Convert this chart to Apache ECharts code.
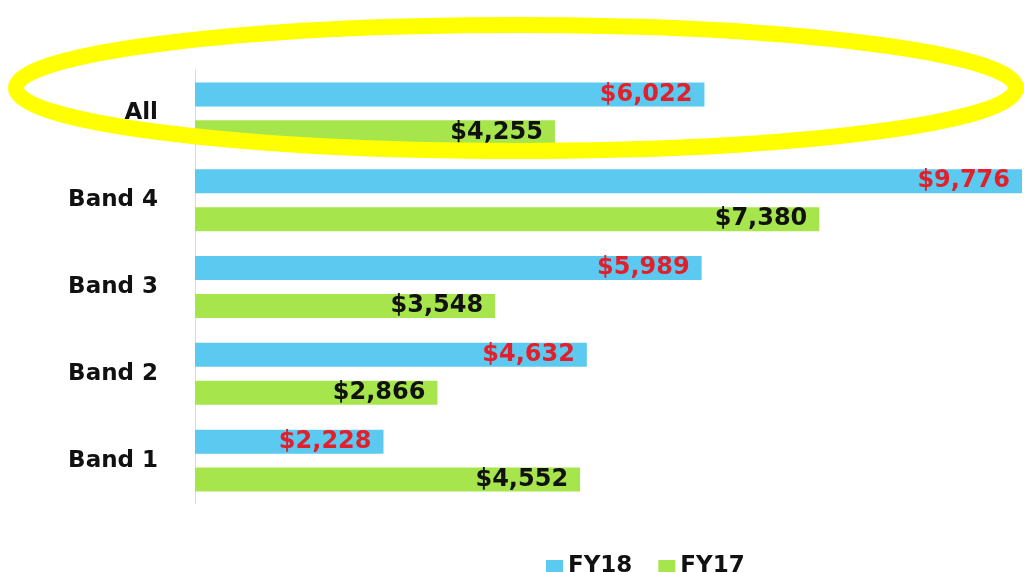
<!DOCTYPE html>
<html lang="en">
<head>
    <meta charset="utf-8">
    <title>FY18 vs FY17 by Band</title>
    <script src="https://cdn.jsdelivr.net/npm/echarts@6/dist/echarts.min.js"></script>
    <style>
        html, body { margin: 0; padding: 0; background: #fff; }
        #chart { width: 1024px; height: 572px; }
    </style>
</head>
<body>
    <div id="chart"></div>
    <script>
        // data, top to bottom
        var categories = ['All', 'Band 4', 'Band 3', 'Band 2', 'Band 1'];
        var fy18 = [6022, 9776, 5989, 4632, 2228];
        var fy17 = [4255, 7380, 3548, 2866, 4552];

        var font = '"DejaVu Sans", Verdana, sans-serif';

        function money(p) {
            return '$' + p.value.toLocaleString('en-US');
        }

        var chart = echarts.init(document.getElementById('chart'));

        var option = {
            backgroundColor: '#ffffff',
            animation: false,
            grid: {
                left: 195,
                width: 827,
                top: 70,
                bottom: 68
            },
            legend: {
                data: ['FY18', 'FY17'],
                left: 541,
                top: 550,
                icon: 'rect',
                itemWidth: 17,
                itemHeight: 13,
                itemGap: 26,
                textStyle: { fontFamily: font, fontWeight: 'bold', fontSize: 23, color: '#111' }
            },
            xAxis: {
                type: 'value',
                min: 0,
                max: 9776,
                show: false,
                splitLine: { show: false }
            },
            yAxis: {
                type: 'category',
                inverse: true,
                data: categories,
                axisLine: { show: true, lineStyle: { color: '#dcdcdc', width: 1 } },
                axisTick: { show: false },
                axisLabel: {
                    margin: 37,
                    fontFamily: font,
                    fontWeight: 'bold',
                    fontSize: 23,
                    color: '#111'
                }
            },
            series: [{
                name: 'FY18',
                type: 'bar',
                data: fy18,
                barWidth: 24,
                barGap: '58%',
                itemStyle: { color: '#5bc9f0' },
                label: {
                    show: true,
                    position: 'insideRight',
                    distance: 12,
                    formatter: money,
                    fontFamily: font,
                    fontWeight: 'bold',
                    fontSize: 24,
                    color: '#e2202c'
                }
            }, {
                name: 'FY17',
                type: 'bar',
                data: fy17,
                barWidth: 24,
                itemStyle: { color: '#a6e64c' },
                label: {
                    show: true,
                    position: 'insideRight',
                    distance: 12,
                    formatter: money,
                    fontFamily: font,
                    fontWeight: 'bold',
                    fontSize: 24,
                    color: '#111'
                }
            }],
            // yellow highlight ring around "All"
            graphic: [{
                type: 'ellipse',
                z: 100,
                shape: { cx: 516, cy: 88, rx: 500, ry: 63 },
                style: { fill: null, stroke: '#ffff00', lineWidth: 16 }
            }]
        };

        chart.setOption(option, true);
    </script>
</body>
</html>
